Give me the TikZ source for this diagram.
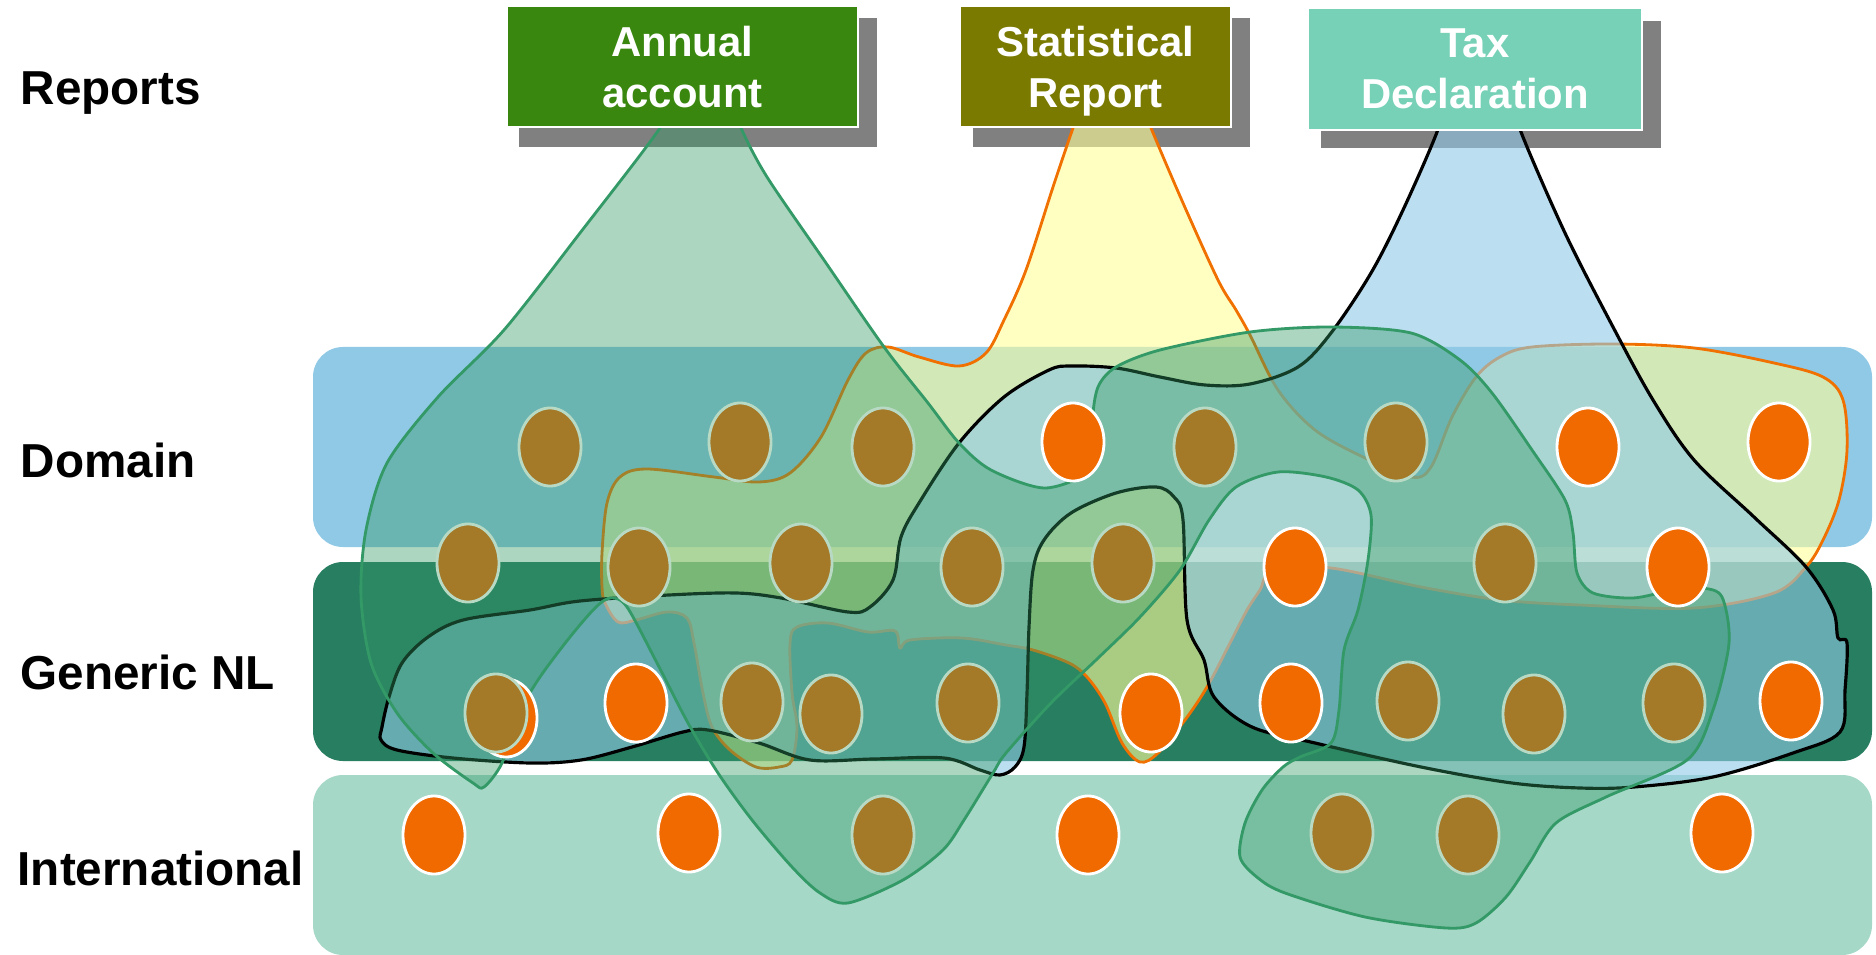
\documentclass[tikz,border=0pt]{standalone}
\usepackage{fontspec}
\setmainfont{Liberation Sans}
\usepackage{tikz}
\usetikzlibrary{backgrounds, calc, shapes.geometric}

\definecolor{domainblue}{HTML}{8FC9E6}
\definecolor{genericgreen}{HTML}{287E60}
\definecolor{intlgreen}{HTML}{A6D8C8}
\definecolor{annualgreen}{HTML}{3A870F}
\definecolor{statolive}{HTML}{7A7A00}
\definecolor{taxteal}{HTML}{76D1B6}
\definecolor{shadowgray}{HTML}{808080}
\definecolor{blobgreen}{HTML}{339966}
\definecolor{blobyellow}{HTML}{FFFF99}
\definecolor{bloborange}{HTML}{F07000}
\definecolor{dotbrown}{HTML}{A47A28}
\definecolor{dotrim}{HTML}{B8DAC4}
\definecolor{dotorange}{HTML}{F06A00}

\begin{document}
\begin{tikzpicture}[
x=0.01cm, y=-0.01cm,
lab/.style={anchor=base west, inner sep=0pt, font=\fontsize{13.55pt}{16pt}\selectfont\bfseries},
report/.style={rectangle, draw=white, line width=0.4pt, text=white, align=center, inner sep=0pt, text depth=0pt, font=\fontsize{11.9pt}{14.5pt}\selectfont\bfseries},
boxshadow/.style={fill=shadowgray},
band/.style={rounded corners=0.3cm},
annualblob/.style={draw=blobgreen, line width=0.8pt, fill=blobgreen, fill opacity=0.4},
statblob/.style={draw=bloborange, line width=0.8pt, fill=blobyellow, fill opacity=0.6},
taxblob/.style={draw=black, line width=0.9pt, fill=domainblue, fill opacity=0.6},
bdot/.style={ellipse, draw=dotrim, line width=0.8pt, fill=dotbrown, minimum width=0.62cm, minimum height=0.78cm, inner sep=0pt},
odot/.style={bdot, draw=white, fill=dotorange}
]
\useasboundingbox (0,0) rectangle (1876,955);

% Reports
\node[report, fill=annualgreen, minimum width=3.51cm, minimum height=1.21cm] (annual) at (682.5,66.5) {Annual\\account};
\node[report, fill=statolive, minimum width=2.71cm, minimum height=1.21cm] (stat) at (1095.5,66.5) {Statistical\\Report};
\node[report, fill=taxteal, minimum width=3.34cm, minimum height=1.22cm] (tax) at (1475,69) {Tax\\Declaration};

\begin{scope}[on background layer]
% Layers
\fill[white] (0,0) rectangle (1876,955);
\fill[band, domainblue] (313,347) rectangle (1872,547);
\fill[band, genericgreen] (313,562) rectangle (1872,761);
\fill[band, intlgreen] (313,775) rectangle (1872,955);

% Shadows
\fill[boxshadow] ($(annual.south west)+(13,19)$) rectangle ($(annual.north east)+(18,13)$);
\fill[boxshadow] ($(stat.south west)+(14,19)$) rectangle ($(stat.north east)+(18,13)$);
\fill[boxshadow] ($(tax.south west)+(14,17)$) rectangle ($(tax.north east)+(18,14)$);

% Statistical Report
\draw[statblob] plot[smooth cycle, tension=0.55] coordinates {
(1080,110) (1073,128) (1053,187) (1026,270) (1004,320) (986,353) (959,366) (919,357)
(888,347) (866,353) (848,380) (821,437) (790,473) (759,482) (714,477) (647,469)
(620,477) (607,503) (602,553) (602,587) (605,603) (618,622) (636,620) (667,612)
(687,618) (694,643) (703,693) (712,727) (730,750) (756,767) (779,767) (792,760)
(797,727) (792,693) (790,643) (797,627) (828,623) (868,632) (895,631) (900,648)
(910,640) (962,638) (1006,645) (1033,650) (1069,663) (1087,677) (1105,703) (1122,743)
(1140,762) (1158,753) (1185,720) (1207,687) (1230,643) (1247,610) (1260,590) (1273,570)
(1331,568) (1421,587) (1501,600) (1580,605) (1694,608) (1774,593) (1806,567) (1823,540)
(1839,500) (1847,450) (1843,400) (1823,377) (1774,363) (1694,348) (1613,344) (1532,347)
(1500,357) (1476,377) (1452,417) (1431,467) (1411,477) (1363,457) (1315,430) (1278,390)
(1250,335) (1236,310) (1218,280) (1183,203) (1151,128) (1145,110)};

% Tax Declaration
\draw[taxblob] plot[smooth cycle, tension=0.55] coordinates {
(1440,110) (1437,132) (1403,210) (1371,273) (1331,333) (1298,367) (1250,384) (1205,385)
(1160,377) (1116,368) (1071,366) (1049,370) (1004,397) (959,443) (919,503) (901,537)
(893,580) (870,607) (848,612) (781,598) (736,593) (669,595) (580,601) (530,610)
(463,620) (428,637) (402,663) (389,697) (382,727) (381,740) (397,750) (453,758)
(530,763) (581,760) (632,747) (683,732) (708,730) (759,743) (810,760) (873,759)
(944,758) (980,770) (1000,775) (1015,767) (1024,747) (1027,693) (1029,627) (1033,570)
(1044,540) (1071,513) (1116,493) (1156,487) (1174,497) (1183,520) (1187,620) (1204,660)
(1214,697) (1252,727) (1315,743) (1421,767) (1512,783) (1580,788) (1634,787) (1713,777)
(1793,753) (1840,732) (1845,690) (1847,643) (1838,638) (1833,610) (1806,567) (1754,517)
(1694,460) (1653,400) (1613,327) (1565,233) (1521,132) (1518,110)};

% Annual account
\draw[annualblob] plot[smooth cycle, tension=0.5] coordinates {
(735,105) (741,128) (767,177) (826,263) (884,347) (928,403) (959,443) (991,470)
(1044,488) (1089,473) (1100,453) (1093,420) (1098,387) (1116,367) (1160,350) (1250,332)
(1331,327) (1411,333) (1460,360) (1492,393) (1532,450) (1565,500) (1573,533) (1577,573)
(1593,593) (1633,598) (1673,590) (1702,588) (1722,597) (1729,643) (1713,710) (1687,760)
(1606,797) (1556,823) (1530,862) (1506,897) (1476,923) (1446,928) (1365,917) (1285,893)
(1258,878) (1240,857) (1245,823) (1262,790) (1283,767) (1300,757) (1331,743) (1339,710)
(1344,650) (1358,610) (1368,560) (1371,515) (1358,490) (1326,477) (1278,472) (1236,487)
(1209,520) (1180,570) (1140,617) (1096,660) (1051,703) (1006,753) (993,773) (964,820)
(943,850) (903,880) (848,903) (820,893) (792,867) (752,820) (718,773) (688,723)
(657,663) (627,607) (611,598) (596,607) (570,637) (540,677) (519,713) (502,763)
(484,787) (473,783) (433,753) (397,713) (371,663) (361,597) (366,530) (387,463)
(438,397) (504,330) (580,233) (660,128) (665,105)};
\end{scope}

% Elements
\node[odot] (o0) at (506,718) {};
\foreach \x/\y [count=\i] in {550/447, 740/442, 883/447, 1205/447, 1396/442,
  468/563, 639/567, 801/563, 972/567, 1123/563, 1505/563,
  496/713, 752/702, 831/714, 968/703, 1408/701, 1534/714, 1674/703,
  883/835, 1342/833, 1468/835}
  \node[bdot] (b\i) at (\x,\y) {};
\foreach \x/\y [count=\i] in {1073/442, 1588/447, 1779/442, 1295/567, 1678/567,
  636/703, 1151/713, 1291/703, 1791/701,
  434/835, 689/833, 1088/835, 1722/833}
  \node[odot] (o\i) at (\x,\y) {};

% Levels
\node[lab] (reports) at (20,105) {Reports};
\node[lab] (domain) at (20,477) {Domain};
\node[lab] (generic) at (20,689) {Generic NL};
\node[lab] (intl) at (17,885) {International};

\end{tikzpicture}
\end{document}
